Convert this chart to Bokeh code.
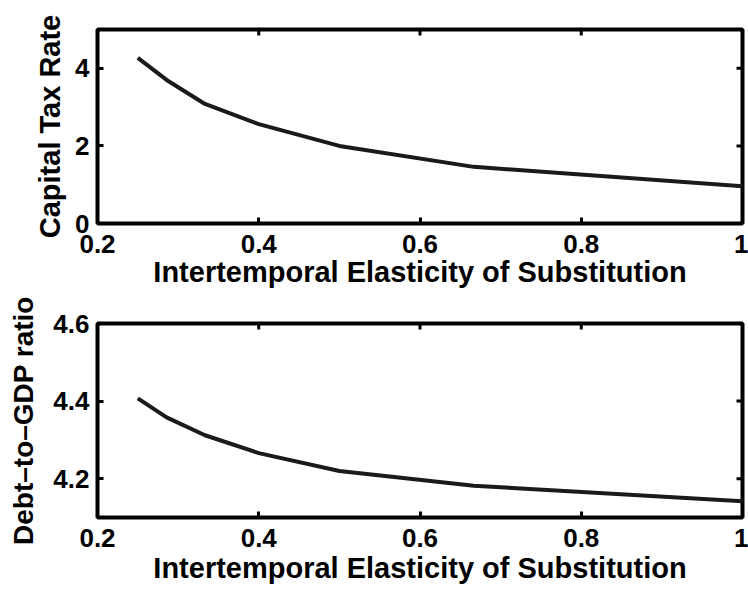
import math
from bokeh.plotting import figure
from bokeh.layouts import column
from bokeh.models import FixedTicker, Range1d
from bokeh.embed import file_html
from bokeh.resources import INLINE

# Data
ies = [0.25, 0.2857, 0.3333, 0.4, 0.5, 0.6667, 1.0]
capital_tax_rate = [4.27, 3.70, 3.08, 2.56, 2.00, 1.46, 0.96]
debt_to_gdp = [4.407, 4.358, 4.312, 4.266, 4.220, 4.182, 4.142]

x_ticks = [0.2, 0.4, 0.6, 0.8, 1.0]
x_tick_labels = ["0.2", "0.4", "0.6", "0.8", "1"]
top_y_ticks = [0, 2, 4]
top_y_tick_labels = ["0", "2", "4"]
bot_y_ticks = [4.2, 4.4, 4.6]
bot_y_tick_labels = ["4.2", "4.4", "4.6"]

x_label = "Intertemporal Elasticity of Substitution"
top_y_label = "Capital Tax Rate"
bot_y_label = "Debt\u2013to\u2013GDP ratio"

FONT = "Liberation Sans"
X_RANGE = (0.2, 1.0)


def style_axis(ax, ticks, labels):
    ax.ticker = FixedTicker(ticks=ticks)
    ax.major_label_overrides = {t: l for t, l in zip(ticks, labels)}
    ax.minor_tick_line_color = None
    ax.axis_line_color = None
    ax.major_tick_in = 6
    ax.major_tick_out = 0
    ax.major_tick_line_width = 3
    ax.major_tick_line_color = "black"
    ax.major_label_text_font = FONT
    ax.major_label_text_font_style = "bold"
    ax.major_label_text_color = "black"
    ax.major_label_text_font_size = "26px"
    ax.axis_label_text_font = FONT
    ax.axis_label_text_font_style = "bold"
    ax.axis_label_text_color = "black"


def make_panel(yvals, yrange, yticks, ytick_labels, ylabel,
               border_top, border_bottom, height,
               ylabel_size, ylabel_standoff, xlabel_standoff):
    p = figure(width=748, height=height,
               x_range=Range1d(*X_RANGE), y_range=Range1d(*yrange),
               output_backend="svg", toolbar_location=None,
               min_border_left=97, min_border_right=6,
               min_border_top=border_top, min_border_bottom=border_bottom,
               background_fill_color="white", border_fill_color="white")
    p.line(ies, yvals, line_color="#1a1a1a", line_width=4)
    p.grid.visible = False
    p.outline_line_color = "black"
    p.outline_line_width = 4
    p.outline_line_alpha = 1

    xb = p.xaxis[0]
    style_axis(xb, x_ticks, x_tick_labels)
    xb.axis_label = x_label
    xb.axis_label_text_font_size = "29px"
    xb.major_label_standoff = 11
    xb.axis_label_standoff = xlabel_standoff

    yl = p.yaxis[0]
    style_axis(yl, yticks, ytick_labels)
    yl.axis_label = ylabel
    yl.axis_label_text_font_size = ylabel_size
    yl.major_label_standoff = 8
    yl.axis_label_standoff = ylabel_standoff

    # inward ticks on the top and right edges of the box (MATLAB style)
    p.ray(x=x_ticks, y=[yrange[1]] * len(x_ticks), length=6,
          length_units="screen", angle=-math.pi / 2,
          line_color="black", line_width=3)
    p.ray(x=[X_RANGE[1]] * len(yticks), y=yticks, length=6,
          length_units="screen", angle=math.pi,
          line_color="black", line_width=3)
    return p


p1 = make_panel(capital_tax_rate, (0, 5), top_y_ticks, top_y_tick_labels,
                top_y_label, 29, 74, 297, "29px", 6, 0)
p2 = make_panel(debt_to_gdp, (4.1, 4.6), bot_y_ticks, bot_y_tick_labels,
                bot_y_label, 26, 75, 295, "28px", 11, 2)

layout = column(p1, p2)
open("out.html", "w").write(file_html(layout, INLINE))
